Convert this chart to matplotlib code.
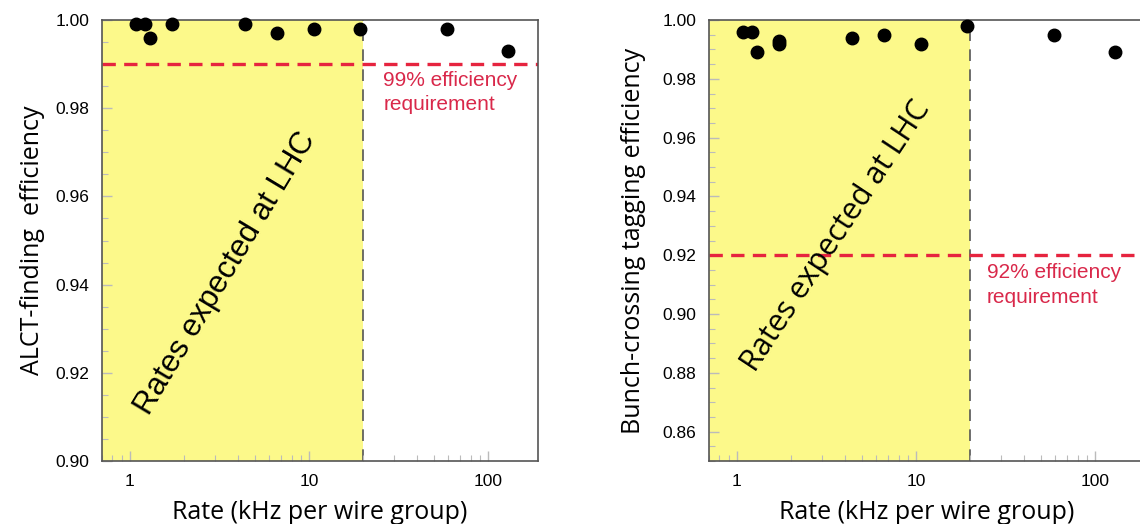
import numpy as np
import matplotlib
matplotlib.use("Agg")
import matplotlib.pyplot as plt
from matplotlib.ticker import FixedLocator, MultipleLocator, NullFormatter

# ==========================
# data
# ==========================

rate_alct = [1.08, 1.21, 1.29, 1.73, 4.4, 6.6, 10.7, 19.2, 59, 130]
eff_alct = [0.999, 0.999, 0.996, 0.999, 0.999, 0.997, 0.998, 0.998, 0.998, 0.993]

rate_bx = [1.08, 1.21, 1.29, 1.73, 1.73, 4.4, 6.6, 10.7, 19.2, 59, 130]
eff_bx = [0.996, 0.996, 0.989, 0.993, 0.992, 0.994, 0.995, 0.992, 0.998, 0.995, 0.989]

lhc_rate_max = 20
req_alct = 0.99
req_bx = 0.92

xticks = [1, 10, 100]
xticklabels = ["1", "10", "100"]

YELLOW = "#fcf98a"
RED = "#e6243f"
RED_TXT = "#d9284a"
SPINE = "#555555"

tick_font = "Liberation Sans"
label_font = "Open Sans"

# ==========================
# figure
# ==========================

fig = plt.figure(figsize=(11.4, 5.24), dpi=100)
ax1 = fig.add_axes([102 / 1140, 63 / 524, 436 / 1140, 441 / 524])
ax2 = fig.add_axes([709 / 1140, 63 / 524, 436 / 1140, 441 / 524])


def style_axes(ax, ylo, yhi):
    ax.set_xscale("log")
    ax.set_xlim(0.70, 190)
    ax.set_ylim(ylo, yhi)
    ax.axvspan(0.70, lhc_rate_max, color=YELLOW, zorder=0, lw=0)
    ax.axvline(lhc_rate_max, color="#555555", lw=1.2, ls=(0, (7, 5)), zorder=1)
    ax.xaxis.set_major_locator(FixedLocator(xticks))
    ax.set_xticklabels(xticklabels)
    ax.xaxis.set_minor_formatter(NullFormatter())
    ax.yaxis.set_major_locator(MultipleLocator(0.02))
    ax.yaxis.set_minor_locator(MultipleLocator(0.005))
    ax.yaxis.set_major_formatter(plt.FuncFormatter(lambda v, p: f"{v:.2f}"))
    ax.tick_params(which="both", direction="in", color="#bbbbbb")
    ax.tick_params(which="major", length=7, width=1, pad=9)
    ax.tick_params(which="minor", length=4, width=0.8)
    for lab in ax.get_xticklabels() + ax.get_yticklabels():
        lab.set_fontfamily(tick_font)
        lab.set_fontsize(12.5)
    for s in ax.spines.values():
        s.set_color(SPINE)
        s.set_linewidth(1.2)


# ---- left: ALCT-finding efficiency ----
style_axes(ax1, 0.90, 1.00)
ax1.axhline(req_alct, color=RED, lw=2.4, ls=(0, (4, 2.5)), zorder=2)
ax1.plot(rate_alct, eff_alct, "o", color="black", ms=9, zorder=5, clip_on=False)
ax1.text(26.0, 0.9885, "99% efficiency\nrequirement", color=RED_TXT,
         fontsize=15, family=tick_font, va="top", ha="left", linespacing=1.35)
ax1.text(3.42, 0.9425, "Rates expected at LHC", rotation=59, rotation_mode="anchor",
         ha="center", va="center", fontsize=22.5, family=tick_font, zorder=3)
ax1.set_ylabel("ALCT-finding  efficiency", fontsize=18, family=label_font, labelpad=8)
ax1.set_xlabel("Rate (kHz per wire group)", fontsize=18, family=label_font, labelpad=8)

# ---- right: bunch-crossing tagging efficiency ----
style_axes(ax2, 0.85, 1.00)
ax2.axhline(req_bx, color=RED, lw=2.4, ls=(0, (4, 2.5)), zorder=2)
ax2.plot(rate_bx, eff_bx, "o", color="black", ms=9, zorder=5, clip_on=False)
ax2.text(24.8, 0.9172, "92% efficiency\nrequirement", color=RED_TXT,
         fontsize=15, family=tick_font, va="top", ha="left", linespacing=1.35)
ax2.text(3.59, 0.9265, "Rates expected at LHC", rotation=56.5, rotation_mode="anchor",
         ha="center", va="center", fontsize=22, family=label_font, zorder=3)
ax2.set_ylabel("Bunch-crossing tagging efficiency", fontsize=18, family=label_font, labelpad=12)
ax2.set_xlabel("Rate (kHz per wire group)", fontsize=18, family=label_font, labelpad=8)

fig.savefig("out.png", dpi=100)
